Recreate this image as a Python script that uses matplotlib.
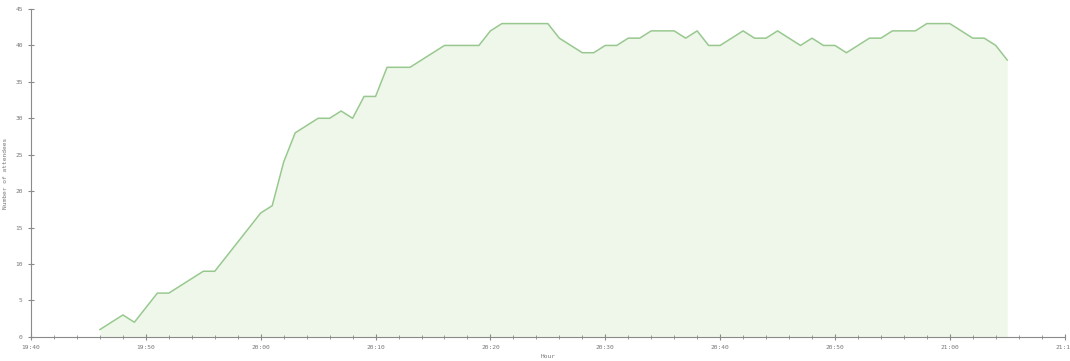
import matplotlib
matplotlib.use("Agg")
import matplotlib.pyplot as plt
import matplotlib.dates as mdates
import pandas as pd

# one value per minute, starting at 19:46
start = "2020-01-01 19:46"
attendees = [1, 2, 3, 2, 4, 6, 6, 7, 8, 9,
             9, 11, 13, 15, 17, 18, 24, 28, 29, 30,
             30, 31, 30, 33, 33, 37, 37, 37, 38, 39,
             40, 40, 40, 40, 42, 43, 43, 43, 43, 43,
             41, 40, 39, 39, 40, 40, 41, 41, 42, 42,
             42, 41, 42, 40, 40, 41, 42, 41, 41, 42,
             41, 40, 41, 40, 40, 39, 40, 41, 41, 42,
             42, 42, 43, 43, 43, 42, 41, 41, 40, 38]
times = pd.date_range(start, periods=len(attendees), freq="1min")

x_min = pd.Timestamp("2020-01-01 19:40")
x_max = pd.Timestamp("2020-01-01 21:10")

plt.rcParams["font.family"] = ["DejaVu Sans Mono", "DejaVu Sans"]

fig = plt.figure(figsize=(10.7, 3.61), dpi=100)
ax = fig.add_axes([0.029, 0.067, 0.966, 0.908])

ax.fill_between(times, attendees, 0, color="#eef7e9", linewidth=0)
ax.plot(times, attendees, color="#98c88f", linewidth=1.1)

ax.set_xlim(x_min, x_max)
ax.set_ylim(0, 45)
ax.set_yticks(range(0, 46, 5))

ax.xaxis.set_major_locator(mdates.MinuteLocator(byminute=range(0, 60, 10)))
ax.xaxis.set_minor_locator(mdates.MinuteLocator(byminute=range(0, 60, 2)))
ax.xaxis.set_major_formatter(mdates.DateFormatter("%H:%M"))

for side in ["top", "right"]:
    ax.spines[side].set_visible(False)
for side in ["left", "bottom"]:
    ax.spines[side].set_color("#8a8a8a")
    ax.spines[side].set_linewidth(0.8)

ax.tick_params(which="both", direction="inout", colors="#8a8a8a",
               labelsize=4.5, labelcolor="#777777")
ax.tick_params(which="major", length=5, width=0.8)
ax.tick_params(which="minor", length=3, width=0.6)

ax.set_xlabel("Hour", fontsize=4.5, color="#777777", labelpad=3)
ax.set_ylabel("Number of attendees", fontsize=4.5, color="#777777", labelpad=5)

fig.savefig("out.png", dpi=100)
